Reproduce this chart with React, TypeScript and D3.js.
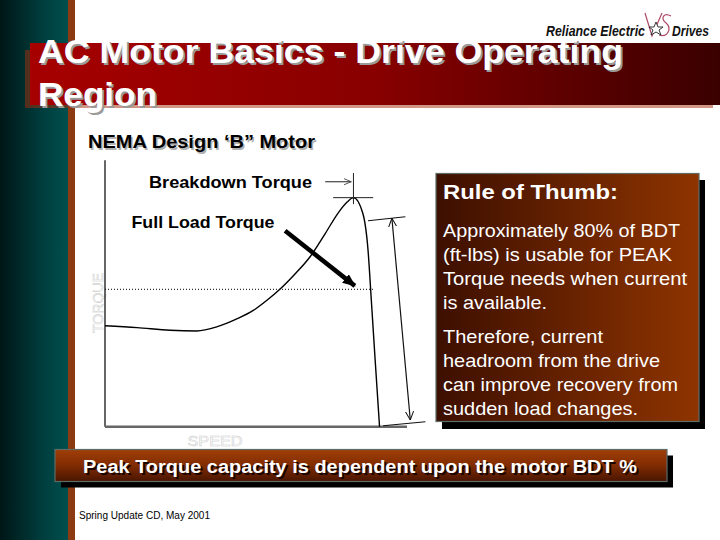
import React from 'react';
import * as d3 from 'd3';

// Torque-speed curve of a NEMA Design B motor (speed % of sync, torque % of full load)
const speedPct = [0, 11.7, 23.7, 33.4, 40.7, 48, 54, 59.1, 63.7, 69.2, 74.7, 80.1, 84.9, 88.2, 90.5, 93.9, 95.8, 97, 98.4, 100];
const torquePct = [73.5, 72.1, 70.2, 69.7, 72.6, 78.4, 84.6, 92.2, 100, 111.1, 123.7, 140.2, 155.5, 163.5, 166.7, 155.3, 128.6, 92.2, 48.5, 0];

const fullLoadTorque = 100;
const breakdownTorque = 166.7;
const breakdownSpeed = 90.5;
const axisMaxTorque = 194;
const axisMaxSpeed = 110;

const titleLines = ['AC Motor Basics - Drive Operating', 'Region'];
const subtitle = 'NEMA Design \u2018B\u201D Motor';
const breakdownLabel = 'Breakdown Torque';
const fullLoadLabel = 'Full Load Torque';
const yAxisLabel = 'TORQUE';
const xAxisLabel = 'SPEED';
const ruleHeading = 'Rule of Thumb:';
const ruleLines1 = ['Approximately 80% of BDT', '(ft-lbs) is usable for PEAK', 'Torque needs when current', 'is available.'];
const ruleWidths1 = [237, 229, 244, 104];
const ruleLines2 = ['Therefore, current', 'headroom from the drive', 'can improve recovery from', 'sudden load changes.'];
const ruleWidths2 = [160, 217, 235, 195];
const bannerText = 'Peak Torque capacity is dependent upon the motor BDT %';
const footerText = 'Spring Update CD, May 2001';

export default function App() {
  const x = d3.scaleLinear().domain([0, axisMaxSpeed]).range([105, 407]);
  const y = d3.scaleLinear().domain([0, fullLoadTorque]).range([426.7, 289.3]);
  const pts = speedPct.map((s, i) => [s, torquePct[i]] as [number, number]);
  const line = d3
    .line<[number, number]>()
    .x((d) => x(d[0]))
    .y((d) => y(d[1]))
    .curve(d3.curveMonotoneX);
  const font = "'Liberation Sans', Arial, Helvetica, sans-serif";

  return (
    <svg
      width={720}
      height={540}
      style={{ position: 'absolute', left: 0, top: 0, display: 'block' }}
      fontFamily={font}
    >
      <defs>
        <linearGradient id="teal" x1="0" x2="1" y1="0" y2="0">
          <stop offset="0" stopColor="#001616" />
          <stop offset="0.6" stopColor="#003c3c" />
          <stop offset="1" stopColor="#004f4f" />
        </linearGradient>
        <linearGradient id="hdr" x1="0" x2="1" y1="0" y2="0">
          <stop offset="0" stopColor="#a60000" />
          <stop offset="0.5" stopColor="#880000" />
          <stop offset="1" stopColor="#3a0000" />
        </linearGradient>
        <linearGradient id="rule" x1="0" x2="1" y1="0" y2="0">
          <stop offset="0" stopColor="#3d0f00" />
          <stop offset="1" stopColor="#8e3400" />
        </linearGradient>
        <linearGradient id="banner" x1="0" x2="0" y1="0" y2="1">
          <stop offset="0" stopColor="#a03e08" />
          <stop offset="0.45" stopColor="#842e02" />
          <stop offset="1" stopColor="#4a1500" />
        </linearGradient>
        <marker id="openHead" viewBox="0 0 10 10" refX="9.5" refY="5" markerWidth="9" markerHeight="9"
          markerUnits="userSpaceOnUse" orient="auto-start-reverse">
          <path d="M0,0.5 L9.5,5 L0,9.5" fill="none" stroke="#111" strokeWidth="1.1" />
        </marker>
        <marker id="greyHead" viewBox="0 0 10 10" refX="9.5" refY="5" markerWidth="8" markerHeight="8"
          markerUnits="userSpaceOnUse" orient="auto">
          <path d="M0,1 L9.5,5 L0,9" fill="none" stroke="#444" strokeWidth="1.1" />
        </marker>
        <marker id="solidHead" viewBox="0 0 12 10" refX="11" refY="5" markerWidth="13" markerHeight="11"
          markerUnits="userSpaceOnUse" orient="auto">
          <path d="M0,0 L12,5 L0,10 Z" fill="#000" />
        </marker>
      </defs>

      <rect width={720} height={540} fill="#ffffff" />
      {/* left strip */}
      <rect x={0} y={0} width={68} height={540} fill="url(#teal)" />
      <rect x={68} y={0} width={7} height={540} fill="#8b3a12" />

      {/* logo */}
      <text x={546} y={36} fontSize={15} fontStyle="italic" fontWeight="bold" fill="#111" textLength={99}
        lengthAdjust="spacingAndGlyphs">Reliance Electric</text>
      <g fill="none" stroke="#b04a68" strokeWidth={1.2}>
        <path d="M645,13 L652,36 L662,13" />
        <path d="M671,16 C664,12 660,18 666,23 C672,28 668,38 659,35" />
      </g>
      <path d="M656,22 L658,27 L663,27 L659,30 L661,35 L656,32 L651,35 L653,30 L649,27 L654,27 Z"
        fill="#fff" stroke="#222" strokeWidth={0.9} />
      <text x={672} y={36} fontSize={15} fontStyle="italic" fontWeight="bold" fill="#111" textLength={37}
        lengthAdjust="spacingAndGlyphs">Drives</text>

      {/* header bar */}
      <rect x={25} y={50} width={688} height={58} fill="rgba(165,45,10,0.5)" />
      <rect x={30} y={43} width={690} height={62} fill="url(#hdr)" />
      {titleLines.map((t, i) => (
        <g key={t}>
          <text x={40} y={65 + i * 43} fontSize={33} fontWeight="bold" fill="#9a9a9a"
            textLength={i === 0 ? 585 : 119} lengthAdjust="spacingAndGlyphs">{t}</text>
          <text x={38} y={63 + i * 43} fontSize={33} fontWeight="bold" fill="#ffffff"
            textLength={i === 0 ? 585 : 119} lengthAdjust="spacingAndGlyphs">{t}</text>
        </g>
      ))}

      {/* subtitle */}
      <text x={89.5} y={149.5} fontSize={18.5} fontWeight="bold" fill="#b0b0b0" textLength={227}
        lengthAdjust="spacingAndGlyphs">{subtitle}</text>
      <text x={88} y={148} fontSize={18.5} fontWeight="bold" fill="#000" textLength={227}
        lengthAdjust="spacingAndGlyphs">{subtitle}</text>

      {/* chart */}
      <g>
        {/* axis titles (outlined) */}
        <text transform="translate(103,303) rotate(-90)" textAnchor="middle"
          fontSize={14.5} fill="#fff" stroke="#c4c4c4" strokeWidth={0.45} textLength={60}
          lengthAdjust="spacingAndGlyphs">{yAxisLabel}</text>
        <text x={215} y={446} textAnchor="middle" fontSize={14.5} fill="#fff" stroke="#c4c4c4"
          strokeWidth={0.45} textLength={55} lengthAdjust="spacingAndGlyphs">{xAxisLabel}</text>

        {/* axes */}
        <line x1={x(0)} x2={x(0)} y1={y(0)} y2={y(axisMaxTorque)} stroke="#000" strokeWidth={1.2} />
        <line x1={x(0)} x2={x(axisMaxSpeed)} y1={y(0)} y2={y(0)} stroke="#666" strokeWidth={2.5} />

        {/* full load dotted line */}
        <line x1={x(0)} x2={x(97.7)} y1={y(fullLoadTorque)} y2={y(fullLoadTorque)} stroke="#000"
          strokeWidth={1} strokeDasharray="1,2" />

        {/* curve */}
        <path d={line(pts) || ''} fill="none" stroke="#000" strokeWidth={1.4} />

        {/* breakdown marker */}
        <line x1={x(83.1)} x2={x(97.7)} y1={y(breakdownTorque)} y2={y(breakdownTorque)} stroke="#222" strokeWidth={1} />
        <line x1={x(breakdownSpeed)} x2={x(breakdownSpeed)} y1={y(184.6)} y2={y(162)} stroke="#222" strokeWidth={1} />
        <line x1={x(80.2)} x2={x(89.7)} y1={y(178.3)} y2={y(178.3)} stroke="#444" strokeWidth={1.2}
          markerEnd="url(#greyHead)" />

        {/* BDT range */}
        <line x1={x(95.8)} x2={x(109.4)} y1={y(149.9)} y2={y(152.8)} stroke="#111" strokeWidth={1.2} />
        <line x1={x(104.5)} x2={x(111.2)} y1={y(151.7)} y2={y(4.9)} stroke="#111" strokeWidth={1.2}
          markerStart="url(#openHead)" markerEnd="url(#openHead)" />
        <line x1={x(101.3)} x2={x(116.7)} y1={y(0.7)} y2={y(3.6)} stroke="#111" strokeWidth={1.2} />

        {/* full load arrow */}
        <line x1={x(65.6)} x2={x(91)} y1={y(142.6)} y2={y(102.5)} stroke="#000" strokeWidth={4.5}
          markerEnd="url(#solidHead)" />

        {/* labels */}
        <text x={149} y={187.5} fontSize={17} fontWeight="bold" fill="#000" textLength={163}
          lengthAdjust="spacingAndGlyphs">{breakdownLabel}</text>
        <text x={131.5} y={227.5} fontSize={17} fontWeight="bold" fill="#000" textLength={143}
          lengthAdjust="spacingAndGlyphs">{fullLoadLabel}</text>
      </g>

      {/* rule of thumb box */}
      <rect x={442} y={180} width={263} height={249} fill="#000" />
      <rect x={436} y={173.5} width={263} height={248} fill="url(#rule)" stroke="#5e6c66" strokeWidth={1.2} />
      <text x={443} y={198.5} fontSize={20} fontWeight="bold" fill="#fff" textLength={175}
        lengthAdjust="spacingAndGlyphs">{ruleHeading}</text>
      {ruleLines1.map((t, i) => (
        <text key={t} x={443} y={236.5 + i * 24} fontSize={18.5} fill="#fff" textLength={ruleWidths1[i]}
          lengthAdjust="spacingAndGlyphs">{t}</text>
      ))}
      {ruleLines2.map((t, i) => (
        <text key={t} x={443} y={342.5 + i * 24} fontSize={18.5} fill="#fff" textLength={ruleWidths2[i]}
          lengthAdjust="spacingAndGlyphs">{t}</text>
      ))}

      {/* bottom banner */}
      <rect x={61} y={455.5} width={612} height={32} fill="#000" />
      <rect x={55} y={449.5} width={612} height={32} fill="url(#banner)" stroke="#5e6c66" strokeWidth={1.2} />
      <text x={85} y={475} fontSize={18} fontWeight="bold" fill="#1a0500" textLength={554}
        lengthAdjust="spacingAndGlyphs">{bannerText}</text>
      <text x={83} y={473.3} fontSize={18} fontWeight="bold" fill="#fff" textLength={554}
        lengthAdjust="spacingAndGlyphs">{bannerText}</text>

      {/* footer */}
      <text x={79} y={519} fontSize={10} fill="#000" textLength={131} lengthAdjust="spacingAndGlyphs">{footerText}</text>
    </svg>
  );
}
